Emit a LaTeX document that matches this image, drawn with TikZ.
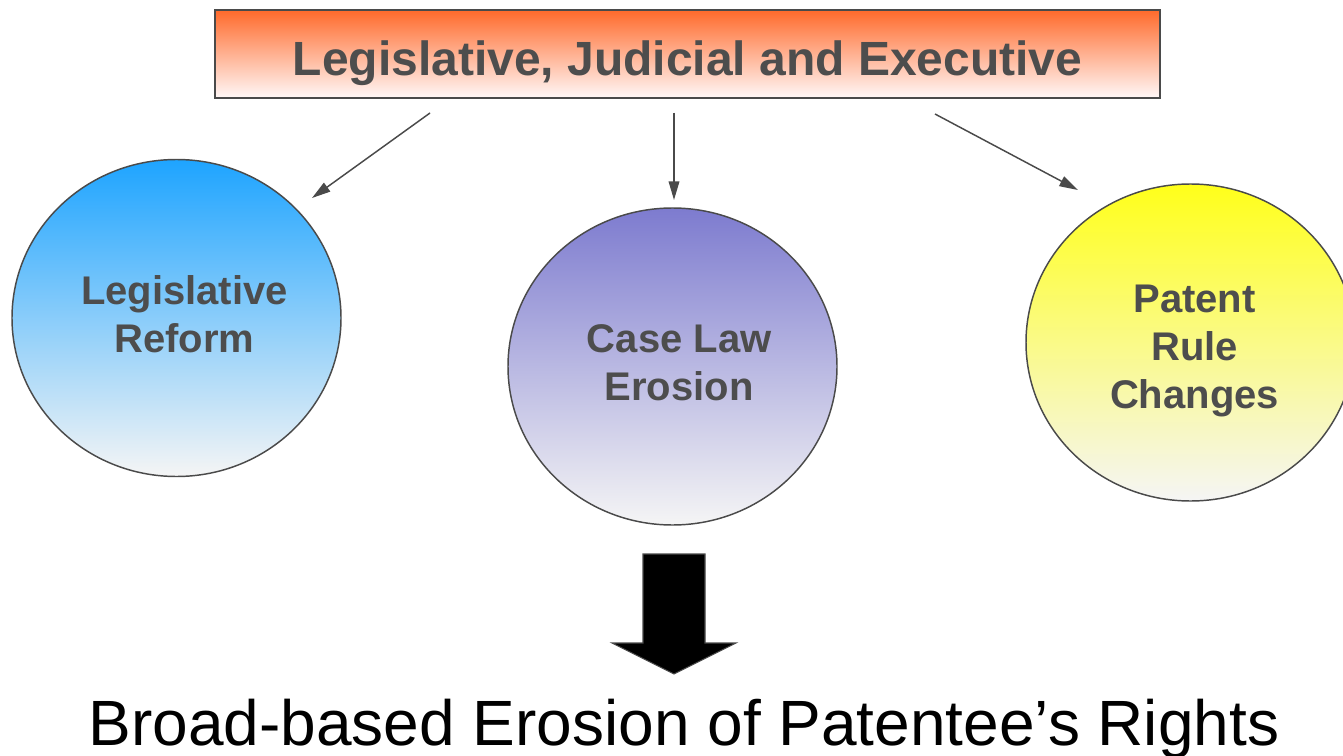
\documentclass[tikz,border=0pt]{standalone}
\usepackage{fontspec}
\setmainfont{Liberation Sans}
\usepackage{xcolor}
\usetikzlibrary{arrows.meta, shapes.geometric}
\definecolor{txtgray}{HTML}{4D4D4D}
\definecolor{linegray}{HTML}{4A4A4A}
\definecolor{orangetop}{HTML}{FF6A2B}
\definecolor{pinkbot}{HTML}{FFF8F8}
\definecolor{bluetop}{HTML}{1EA4FF}
\definecolor{purpletop}{HTML}{7D7BCF}
\definecolor{yellowtop}{HTML}{FFFF1A}
\definecolor{paleend}{HTML}{F5F5F5}

\begin{document}
\begin{tikzpicture}[x=0.75pt, y=-0.75pt, >={Triangle[length=14pt, width=8pt]},
  every node/.style={font=\fontsize{30}{36}\selectfont\bfseries, text=txtgray},
  bubble/.style={ellipse, draw=linegray, line width=1.1pt, inner sep=0pt,
    minimum width=246.75pt, minimum height=237.75pt, bottom color=paleend},
  conn/.style={->, draw=linegray, fill=linegray, line width=1.1pt}]
  \useasboundingbox (0,0) rectangle (1343,756);

  % source box
  \node[draw=linegray, line width=1.5pt, inner sep=0pt, minimum width=708.75pt,
    text height=49.5pt, text depth=16.5pt, font=\fontsize{36}{40}\selectfont\bfseries,
    top color=orangetop, bottom color=pinkbot] (branch01) at (687.5,54) {Legislative, Judicial and Executive};

  % the three fronts
  \node[bubble, top color=bluetop] (front01) at (176.5,318) {};
  \node[bubble, top color=purpletop] (front02) at (672.5,366.5) {};
  \node[bubble, top color=yellowtop] (front03) at (1190.5,342.5) {};
  \node[align=center] (label01) at ([xshift=6pt, yshift=3pt]front01.center) {Legislative\\Reform};
  \node[align=center] (label02) at ([xshift=5pt, yshift=3pt]front02.center) {Case Law\\Erosion};
  \node[align=center] (label03) at ([xshift=3pt, yshift=-6pt]front03.center) {Patent\\Rule\\Changes};

  \coordinate (from01) at (430,113);
  \coordinate (from02) at (674,113);
  \coordinate (from03) at (935,114);
  \coordinate (to01) at (312,198);
  \coordinate (to02) at (674,200);
  \coordinate (to03) at (1078,190);
  \draw[conn] (from01) -- (to01);
  \draw[conn] (from02) -- (to02);
  \draw[conn] (from03) -- (to03);

  % big arrow and result
  \draw[draw=linegray, fill=black, line width=0.8pt] (643,554) -- (705,554) -- (705,643) -- (736,643)
    -- (674,674) -- (612,643) -- (643,643) -- cycle;
  \node[anchor=base, font=\fontsize{48}{52}\selectfont, text=black] (result01) at (684,745) {Broad-based Erosion of Patentee’s Rights};
\end{tikzpicture}
\end{document}
